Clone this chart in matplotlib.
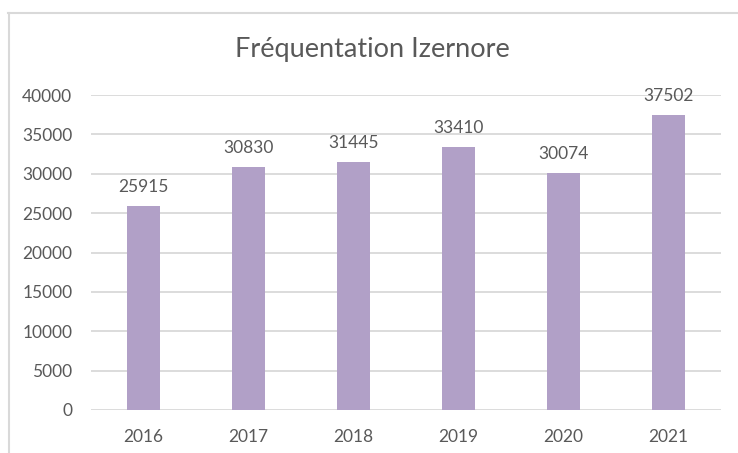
import matplotlib.pyplot as plt
from matplotlib.lines import Line2D

years = ['2016', '2017', '2018', '2019', '2020', '2021']
visits = [25915, 30830, 31445, 33410, 30074, 37502]
y_ticks = [0, 5000, 10000, 15000, 20000, 25000, 30000, 35000, 40000]

W, H = 738, 453
bar_color = '#B1A0C7'
grid_color = '#D9D9D9'
text_color = '#595959'

plt.rcParams['font.family'] = ['Lato', 'DejaVu Sans']

fig = plt.figure(figsize=(W / 100, H / 100), dpi=100)
fig.patch.set_facecolor('white')

# plot area in pixels: x 91..721, y 95..410
ax = fig.add_axes([91 / W, (H - 410) / H, (721 - 91) / W, (410 - 95) / H])
x = list(range(len(years)))
ax.bar(x, visits, width=0.31, color=bar_color, zorder=3)
ax.set_xlim(-0.5, len(years) - 0.5)
ax.set_ylim(0, 40000)
ax.set_yticks(y_ticks)
ax.set_yticklabels([str(v) for v in y_ticks])
ax.set_xticks(x)
ax.set_xticklabels(years)
ax.grid(axis='y', color=grid_color, linewidth=1.3, zorder=0)
for s in ax.spines.values():
    s.set_visible(False)
ax.tick_params(length=0, colors=text_color, labelsize=12.5)
ax.tick_params(axis='y', pad=13.5)
ax.tick_params(axis='x', pad=14)

for xi, v in zip(x, visits):
    ax.annotate(str(v), (xi, v), xytext=(0, 8), textcoords='offset points',
                ha='center', va='bottom', color=text_color, fontsize=12.5, zorder=4)

fig.text(372 / W, 1 - 50 / H, 'Fréquentation Izernore', ha='center', va='center',
         color=text_color, fontsize=19.5)

# chart border (only top and left visible in the crop)
fig.add_artist(Line2D([8 / W, 1], [1 - 13 / H, 1 - 13 / H], color=grid_color, linewidth=1.5))
fig.add_artist(Line2D([9 / W, 9 / W], [0, 1 - 13 / H], color=grid_color, linewidth=1.5))

fig.savefig('out.png', dpi=100)
